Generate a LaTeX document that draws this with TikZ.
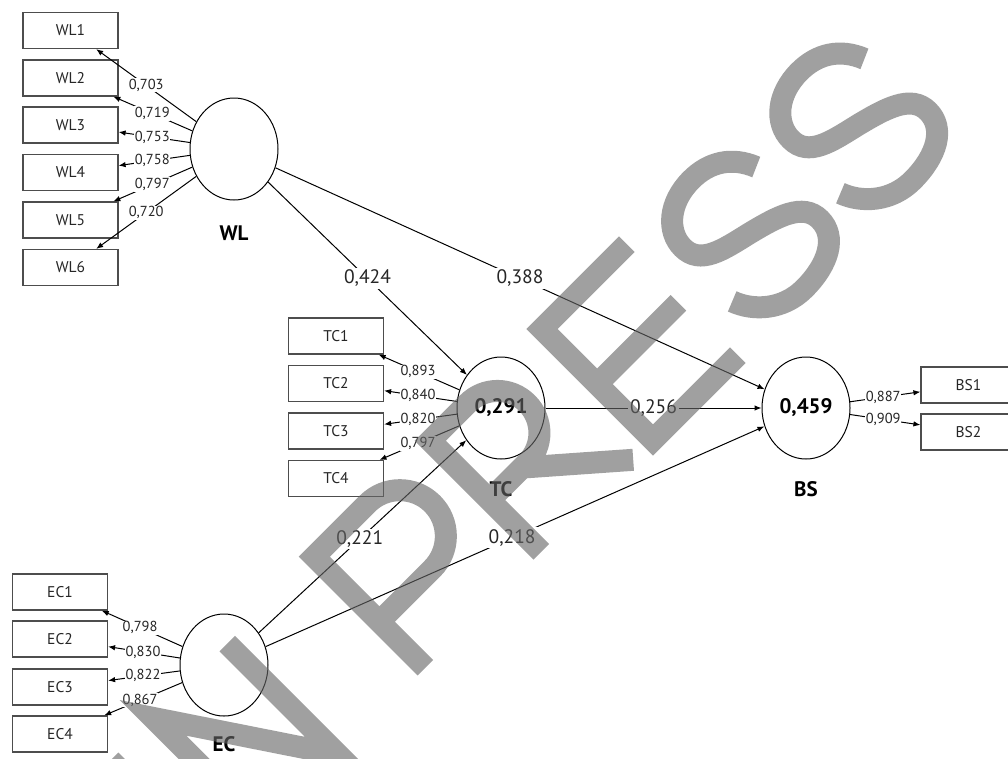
\documentclass[tikz,border=0pt]{standalone}
\usepackage{fontspec}
\setmainfont{PT Sans}
\usetikzlibrary{shapes.geometric,arrows.meta,calc}
\definecolor{tx}{HTML}{262626}
\definecolor{bx}{HTML}{4d4d4d}
\begin{document}
\begin{tikzpicture}[x=1pt,y=-1pt,
  ind/.style={draw=bx, line width=1.2pt, minimum width=95pt, minimum height=36pt, inner sep=0pt,
    font=\fontsize{15.5}{17}\selectfont, text=tx},
  lat/.style={ellipse, draw=black, line width=1pt, minimum width=88pt, minimum height=102pt,
    inner sep=0pt, font=\bfseries\fontsize{21}{24}\selectfont},
  latname/.style={font=\bfseries\fontsize{21}{24}\selectfont, inner sep=1pt},
  ld/.style={fill=white, inner sep=0.8pt, font=\fontsize{14.5}{15}\selectfont, text=tx},
  pc/.style={fill=white, inner sep=2pt, font=\fontsize{19.5}{22}\selectfont, text=tx},
  arr/.style={-{Latex[length=7pt,width=5.5pt]}, line width=1pt},
  wm/.style={draw=black!60, draw opacity=0.62, line width=22pt, line cap=butt, line join=miter}
]
\useasboundingbox (0,0) rectangle (1008,758);
\fill[white] (0,0) rectangle (1008,758);

% indicator boxes
\node[ind] (WL1) at (70.5,30.5) {WL1};
\node[ind] (WL2) at (70.5,78) {WL2};
\node[ind] (WL3) at (70.5,125) {WL3};
\node[ind] (WL4) at (70.5,172.5) {WL4};
\node[ind] (WL5) at (70.5,220) {WL5};
\node[ind] (WL6) at (70.5,267.5) {WL6};

\node[ind] (TC1) at (336,336) {TC1};
\node[ind] (TC2) at (336,383.5) {TC2};
\node[ind] (TC3) at (336,431) {TC3};
\node[ind] (TC4) at (336,478.5) {TC4};

\node[ind] (EC1) at (60,592) {EC1};
\node[ind] (EC2) at (60,639) {EC2};
\node[ind] (EC3) at (60,687) {EC3};
\node[ind] (EC4) at (60,734) {EC4};

\node[ind] (BS1) at (968.5,385) {BS1};
\node[ind] (BS2) at (968.5,432) {BS2};

% latent variables
\node[lat] (WL) at (234,149) {};
\node[lat] (TC) at (501,408) {0,291};
\node[lat] (BS) at (806,408) {0,459};
\node[lat] (EC) at (224,665) {};
\node[latname] (WLn) at (234,233) {WL};
\node[latname] (TCn) at (501,489) {TC};
\node[latname] (BSn) at (806,489) {BS};
\node[latname] (ECn) at (224,744) {EC};

% structural paths
\draw[arr] (WL) -- (TC);
\draw[arr] (WL) -- (BS);
\draw[arr] (TC) -- (BS);
\draw[arr] (EC) -- (TC);
\draw[arr] (EC) -- (BS);
\path (WL.center) -- (TC.center) node[pc,pos=0.5] {0,424};
\path (WL.center) -- (BS.center) node[pc,pos=0.5] {0,388};
\path (TC.center) -- (BS.center) node[pc,pos=0.5] {0,256};
\path (EC.center) -- (TC.center) node[pc,pos=0.49] {0,221};
\path (EC.center) -- (BS.center) node[pc,pos=0.495] {0,218};

% loadings WL
\foreach \i in {1,2,3,4,5,6}{ \draw[arr] (WL) -- (WL\i); }
\path (WL.center) -- (WL1.center) node[ld,pos=0.537] {0,703};
\path (WL.center) -- (WL2.center) node[ld,pos=0.5] {0,719};
\path (WL.center) -- (WL3.center) node[ld,pos=0.5] {0,753};
\path (WL.center) -- (WL4.center) node[ld,pos=0.5] {0,758};
\path (WL.center) -- (WL5.center) node[ld,pos=0.5] {0,797};
\path (WL.center) -- (WL6.center) node[ld,pos=0.537] {0,720};

% loadings TC
\foreach \i in {1,2,3,4}{ \draw[arr] (TC) -- (TC\i); }
\path (TC.center) -- (TC1.center) node[ld,pos=0.503] {0,893};
\path (TC.center) -- (TC2.center) node[ld,pos=0.503] {0,840};
\path (TC.center) -- (TC3.center) node[ld,pos=0.503] {0,820};
\path (TC.center) -- (TC4.center) node[ld,pos=0.503] {0,797};

% loadings EC
\foreach \i in {1,2,3,4}{ \draw[arr] (EC) -- (EC\i); }
\path (EC.center) -- (EC1.center) node[ld,pos=0.512] {0,798};
\path (EC.center) -- (EC2.center) node[ld,pos=0.494] {0,830};
\path (EC.center) -- (EC3.center) node[ld,pos=0.494] {0,822};
\path (EC.center) -- (EC4.center) node[ld,pos=0.512] {0,867};

% loadings BS
\draw[arr] (BS) -- (BS1);
\draw[arr] (BS) -- (BS2);
\path (BS.center) -- (BS1.center) node[ld,pos=0.475] {0,887};
\path (BS.center) -- (BS2.center) node[ld,pos=0.475] {0,909};

% watermark
\begin{scope}[shift={(653,440)}, x={(0.7071pt,0.7071pt)}, y={(-0.7071pt,0.7071pt)}]
\draw[wm]
  (-610,0) -- (-610,157)
  (-550,0) -- (-550,157) -- (-445,0) -- (-445,157)
  (-322,0) -- (-322,157) -- (-247,157) arc[start angle=90,end angle=-90,radius=46] -- (-322,65)
  (-158,0) -- (-158,157) -- (-105,157) arc[start angle=90,end angle=-90,radius=42] -- (-158,73)
  (-112,73) -- (-28,0)
  (120,157) -- (0,157) -- (0,0) -- (120,0)
  (0,79) -- (115,79)
  (266,120) .. controls (256,145) and (236,157) .. (211,157)
    .. controls (179,157) and (157,138) .. (157,115)
    .. controls (157,90) and (184,85) .. (214,78)
    .. controls (246,70) and (274,62) .. (274,38)
    .. controls (274,14) and (249,0) .. (214,0)
    .. controls (184,0) and (162,20) .. (154,42)
  (419,120) .. controls (409,145) and (389,157) .. (364,157)
    .. controls (332,157) and (310,138) .. (310,115)
    .. controls (310,90) and (337,85) .. (367,78)
    .. controls (399,70) and (427,62) .. (427,38)
    .. controls (427,14) and (402,0) .. (367,0)
    .. controls (337,0) and (315,20) .. (307,42);
\end{scope}
\end{tikzpicture}
\end{document}
